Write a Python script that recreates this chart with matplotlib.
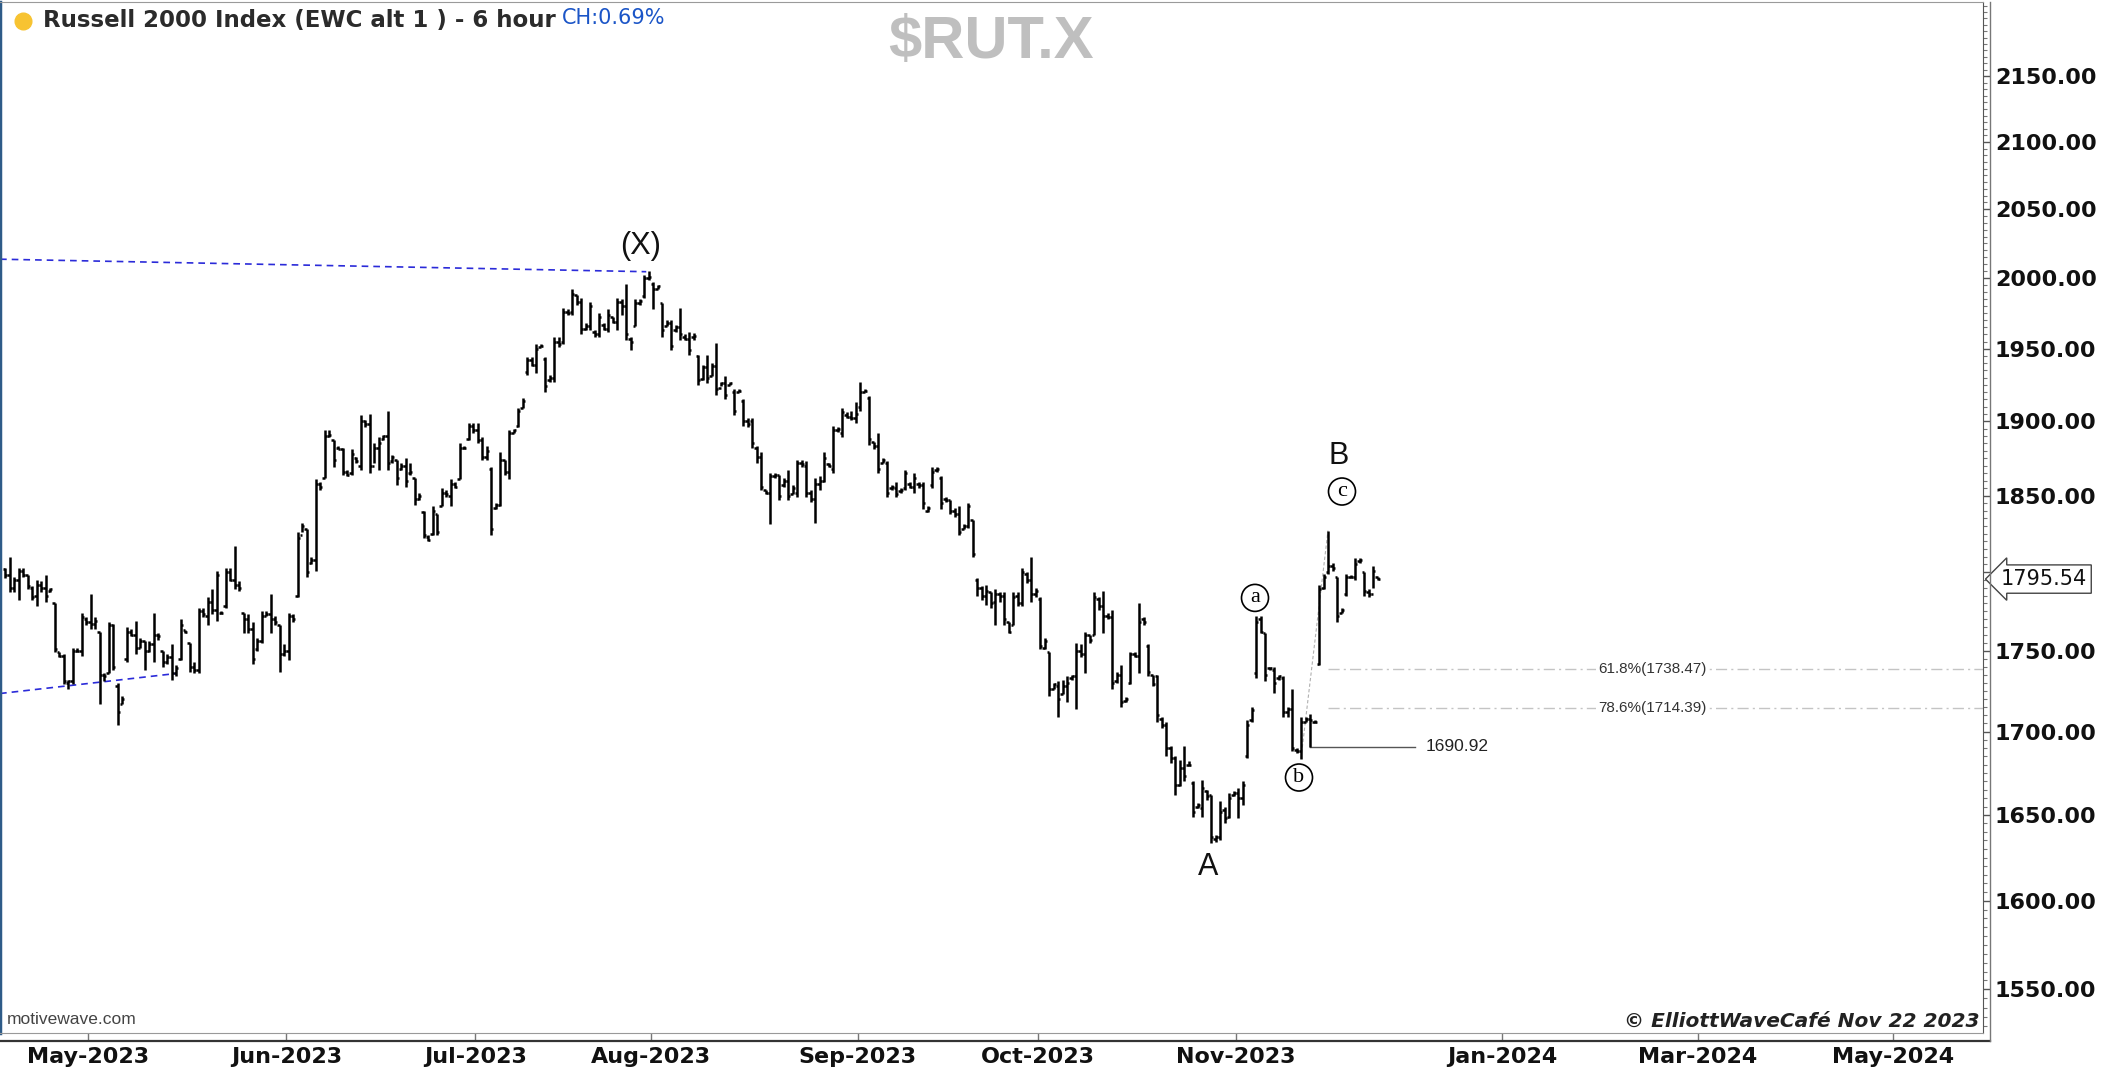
import matplotlib
matplotlib.use("Agg")
import matplotlib.pyplot as plt
import matplotlib.transforms as mtransforms
import numpy as np
from matplotlib.collections import LineCollection
from matplotlib.lines import Line2D
from matplotlib.ticker import FixedLocator, NullFormatter

# 6 hour bars of $RUT.X, rows are [open, high, low, close]
apr_bars = [
    [1802, 1803, 1796, 1798], [1798, 1810, 1787, 1790], [1790, 1797, 1787, 1795], [1795, 1803, 1782, 1801],
    [1801, 1803, 1797, 1798], [1798, 1798, 1789, 1791], [1790, 1791, 1782, 1784], [1785, 1795, 1778, 1792],
    [1792, 1794, 1787, 1790], [1790, 1798, 1781, 1785], [1788, 1790, 1787, 1789], [1780, 1780, 1749, 1751],
    [1749, 1749, 1746, 1747], [1747, 1748, 1729, 1731], [1730, 1732, 1726, 1731], [1731, 1752, 1729, 1750],
    [1750, 1752, 1749, 1750], [1750, 1774, 1747, 1771], [1770, 1771, 1766, 1768]]
may_bars = [
    [1768, 1786, 1764, 1767], [1767, 1771, 1764, 1769], [1762, 1762, 1717, 1735], [1735, 1736, 1731, 1734],
    [1736, 1768, 1736, 1766], [1766, 1767, 1738, 1740], [1728, 1730, 1704, 1712], [1717, 1722, 1717, 1720],
    [1745, 1765, 1743, 1762], [1762, 1764, 1759, 1760], [1760, 1769, 1748, 1752], [1752, 1758, 1752, 1756],
    [1756, 1756, 1738, 1750], [1750, 1756, 1749, 1754], [1754, 1774, 1743, 1760], [1760, 1761, 1757, 1759],
    [1750, 1750, 1740, 1743], [1743, 1748, 1742, 1746], [1746, 1754, 1732, 1736], [1736, 1741, 1734, 1739],
    [1745, 1770, 1744, 1766], [1763, 1763, 1761, 1762], [1755, 1755, 1737, 1740], [1740, 1743, 1736, 1738],
    [1738, 1777, 1736, 1775], [1775, 1777, 1771, 1773], [1772, 1784, 1766, 1781], [1781, 1789, 1773, 1776],
    [1776, 1801, 1769, 1798], [1774, 1775, 1773, 1774], [1778, 1803, 1777, 1800], [1800, 1803, 1794, 1795],
    [1795, 1817, 1789, 1792], [1792, 1794, 1788, 1790], [1774, 1774, 1761, 1770], [1770, 1773, 1761, 1764],
    [1764, 1768, 1742, 1745], [1751, 1758, 1750, 1756], [1756, 1775, 1755, 1772], [1772, 1775, 1772, 1773],
    [1773, 1786, 1761, 1770], [1770, 1772, 1766, 1768], [1766, 1766, 1737, 1748], [1748, 1754, 1747, 1750]]
jun_bars = [
    [1750, 1774, 1744, 1772], [1772, 1773, 1768, 1770], [1785, 1826, 1784, 1822], [1824, 1832, 1826, 1830],
    [1828, 1828, 1797, 1800], [1806, 1810, 1805, 1808], [1808, 1861, 1801, 1858], [1858, 1859, 1854, 1856],
    [1862, 1894, 1862, 1890], [1890, 1894, 1889, 1891], [1887, 1887, 1869, 1874], [1882, 1883, 1881, 1881],
    [1881, 1882, 1864, 1866], [1866, 1867, 1863, 1864], [1865, 1881, 1864, 1878], [1875, 1876, 1872, 1873],
    [1870, 1904, 1867, 1900], [1900, 1901, 1896, 1898], [1898, 1905, 1865, 1870], [1870, 1885, 1872, 1882],
    [1882, 1889, 1867, 1885], [1888, 1891, 1887, 1890], [1890, 1907, 1867, 1872], [1873, 1877, 1872, 1876],
    [1874, 1874, 1857, 1862], [1868, 1872, 1867, 1870], [1870, 1875, 1856, 1860], [1865, 1872, 1864, 1866],
    [1862, 1862, 1844, 1848], [1848, 1852, 1847, 1850], [1839, 1840, 1822, 1824], [1823, 1824, 1820, 1821],
    [1825, 1843, 1824, 1840], [1838, 1838, 1824, 1826], [1843, 1855, 1843, 1852], [1852, 1854, 1849, 1851],
    [1850, 1861, 1843, 1858], [1858, 1859, 1855, 1856], [1861, 1885, 1861, 1882], [1882, 1883, 1881, 1882],
    [1888, 1899, 1887, 1897], [1897, 1899, 1892, 1894]]
jul_bars = [
    [1894, 1899, 1885, 1887], [1887, 1889, 1874, 1876], [1876, 1883, 1874, 1880], [1868, 1869, 1824, 1828],
    [1842, 1845, 1841, 1844], [1844, 1879, 1843, 1874], [1874, 1874, 1864, 1866], [1866, 1894, 1861, 1892],
    [1892, 1895, 1892, 1894], [1897, 1909, 1896, 1907], [1909, 1916, 1909, 1914], [1934, 1944, 1932, 1942],
    [1942, 1944, 1938, 1939], [1939, 1953, 1933, 1950], [1951, 1953, 1951, 1952], [1943, 1944, 1920, 1924],
    [1928, 1932, 1927, 1930], [1930, 1958, 1927, 1955], [1955, 1958, 1951, 1953], [1955, 1979, 1953, 1976],
    [1976, 1978, 1974, 1975], [1976, 1992, 1974, 1989], [1988, 1988, 1981, 1983], [1983, 1986, 1960, 1964],
    [1964, 1968, 1963, 1966], [1966, 1983, 1963, 1980], [1962, 1963, 1958, 1960], [1960, 1975, 1958, 1972],
    [1967, 1968, 1963, 1964], [1964, 1978, 1962, 1974], [1972, 1972, 1968, 1969], [1969, 1986, 1963, 1983],
    [1983, 1985, 1974, 1980], [1980, 1996, 1956, 1960], [1957, 1958, 1949, 1955], [1966, 1985, 1966, 1982],
    [1982, 1985, 1981, 1984], [1987, 2002, 1986, 2000], [2000, 2005, 1999, 2001]]
aug_bars = [
    [1996, 1997, 1978, 1992], [1992, 1995, 1992, 1994], [1982, 1982, 1958, 1963], [1966, 1970, 1966, 1968],
    [1968, 1970, 1949, 1952], [1963, 1967, 1962, 1965], [1965, 1979, 1956, 1960], [1958, 1960, 1956, 1957],
    [1957, 1962, 1946, 1949], [1958, 1961, 1956, 1959], [1945, 1946, 1925, 1928], [1929, 1939, 1928, 1937],
    [1937, 1946, 1926, 1930], [1931, 1940, 1931, 1938], [1938, 1954, 1918, 1922], [1923, 1927, 1924, 1926],
    [1926, 1931, 1915, 1918], [1925, 1927, 1925, 1926], [1920, 1922, 1904, 1907], [1920, 1922, 1920, 1921],
    [1914, 1915, 1897, 1900], [1900, 1902, 1896, 1898], [1900, 1902, 1882, 1885], [1882, 1883, 1872, 1876],
    [1876, 1879, 1854, 1856], [1854, 1854, 1851, 1852], [1852, 1865, 1831, 1863], [1863, 1865, 1862, 1864],
    [1864, 1864, 1847, 1850], [1857, 1862, 1856, 1860], [1860, 1867, 1847, 1850], [1851, 1857, 1851, 1855],
    [1852, 1874, 1849, 1872], [1872, 1874, 1869, 1871], [1870, 1873, 1849, 1852], [1852, 1854, 1846, 1848],
    [1848, 1862, 1832, 1858], [1858, 1863, 1854, 1860], [1860, 1879, 1859, 1875], [1871, 1872, 1869, 1870],
    [1868, 1897, 1865, 1894], [1894, 1896, 1893, 1895], [1892, 1909, 1889, 1906], [1904, 1906, 1902, 1903],
    [1903, 1907, 1901, 1902], [1902, 1913, 1899, 1905]]
sep_bars = [
    [1910, 1927, 1907, 1920], [1920, 1922, 1920, 1921], [1916, 1917, 1884, 1888], [1886, 1886, 1881, 1883],
    [1883, 1892, 1865, 1868], [1872, 1875, 1872, 1874], [1872, 1873, 1849, 1852], [1855, 1857, 1854, 1856],
    [1855, 1859, 1849, 1851], [1853, 1855, 1852, 1854], [1855, 1867, 1854, 1865], [1858, 1859, 1855, 1856],
    [1856, 1865, 1852, 1862], [1858, 1859, 1855, 1857], [1857, 1859, 1841, 1845], [1840, 1843, 1839, 1842],
    [1857, 1869, 1855, 1866], [1867, 1869, 1866, 1868], [1862, 1863, 1841, 1845], [1848, 1849, 1846, 1847],
    [1847, 1847, 1838, 1840], [1840, 1842, 1836, 1838], [1838, 1843, 1824, 1826], [1828, 1831, 1828, 1830],
    [1830, 1845, 1829, 1843], [1834, 1834, 1810, 1812], [1795, 1796, 1785, 1790], [1790, 1791, 1782, 1785],
    [1785, 1792, 1779, 1788], [1787, 1787, 1777, 1780], [1781, 1789, 1766, 1786], [1786, 1787, 1781, 1785],
    [1785, 1787, 1766, 1770], [1768, 1768, 1761, 1762], [1766, 1787, 1766, 1784], [1785, 1787, 1778, 1780],
    [1780, 1803, 1778, 1800], [1799, 1800, 1793, 1795], [1795, 1810, 1781, 1786], [1786, 1790, 1784, 1788]]
oct_bars = [
    [1783, 1784, 1751, 1753], [1752, 1758, 1751, 1756], [1749, 1749, 1722, 1726], [1726, 1730, 1726, 1729],
    [1728, 1731, 1709, 1720], [1723, 1732, 1723, 1728], [1728, 1734, 1718, 1730], [1733, 1735, 1732, 1734],
    [1734, 1755, 1714, 1750], [1750, 1754, 1746, 1748], [1748, 1762, 1736, 1760], [1760, 1760, 1755, 1757],
    [1760, 1787, 1760, 1784], [1783, 1784, 1776, 1778], [1778, 1788, 1761, 1772], [1772, 1774, 1770, 1771],
    [1771, 1776, 1726, 1730], [1731, 1737, 1730, 1735], [1735, 1741, 1715, 1718], [1719, 1721, 1718, 1720],
    [1730, 1749, 1729, 1748], [1748, 1749, 1746, 1747], [1747, 1780, 1736, 1768], [1770, 1771, 1766, 1768],
    [1753, 1754, 1734, 1737], [1735, 1735, 1728, 1729], [1734, 1735, 1706, 1710], [1708, 1709, 1702, 1704],
    [1704, 1706, 1685, 1690], [1690, 1691, 1681, 1684], [1684, 1685, 1662, 1668], [1668, 1683, 1667, 1678],
    [1678, 1691, 1670, 1673], [1680, 1682, 1679, 1680], [1669, 1670, 1649, 1652], [1655, 1657, 1654, 1656],
    [1654, 1671, 1649, 1666], [1664, 1665, 1659, 1661], [1662, 1662, 1633.7, 1637], [1636, 1638, 1634, 1637],
    [1637, 1658, 1635, 1652], [1653, 1655, 1645, 1648], [1649, 1663, 1648, 1660], [1662, 1664, 1661, 1663]]
nov_bars = [
    [1663, 1666, 1648, 1660], [1660, 1670, 1656, 1668], [1685, 1707, 1684, 1704], [1707, 1715, 1706, 1713],
    [1736, 1772, 1733, 1768], [1770, 1772, 1761, 1762], [1761, 1761, 1731, 1735], [1739, 1740, 1738, 1739],
    [1738, 1740, 1724, 1730], [1733, 1735, 1732, 1734], [1733, 1734, 1709, 1712], [1712, 1715, 1709, 1714],
    [1714, 1726, 1688, 1690], [1689, 1690, 1687, 1688], [1688, 1709, 1683.72, 1706], [1706, 1709, 1706, 1708],
    [1708, 1711, 1690.92, 1707], [1706, 1707, 1705, 1706], [1742, 1792, 1741, 1789], [1790, 1799, 1789, 1797],
    [1800, 1827.05, 1799, 1804], [1804, 1806, 1801, 1803], [1797, 1797, 1768, 1772], [1774, 1777, 1774, 1776],
    [1786, 1799, 1785, 1797], [1797, 1798, 1796, 1797], [1797, 1809, 1795, 1805], [1807, 1809, 1806, 1808],
    [1800, 1800, 1785, 1788], [1787, 1789, 1784, 1786], [1786, 1804, 1790, 1801], [1797, 1797, 1795, 1795.54]]

month_bars = [apr_bars, may_bars, jun_bars, jul_bars, aug_bars, sep_bars, oct_bars, nov_bars]
month_labels = ["May-2023", "Jun-2023", "Jul-2023", "Aug-2023", "Sep-2023", "Oct-2023", "Nov-2023"]
future_labels = ["Jan-2024", "Mar-2024", "May-2024"]
price_ticks = [1550, 1600, 1650, 1700, 1750, 1800, 1850, 1900, 1950, 2000, 2050, 2100, 2150]

# wave labels: (text, bar index, price, dx px, dy px, circled)
wave_labels = [
    ("(X)", 143, 2005, -8, 25, False),
    ("A", 268, 1633.7, -3, -24, False),
    ("a", 278, 1772, -1, 18, True),
    ("b", 288, 1683.72, -2, -19, True),
    ("c", 294, 1827.05, 14, 39, True),
    ("B", 294, 1827.05, 11, 75, False),
]
upper_trend = ([-1.1, 142.5], [2013.6, 2004.6])
lower_trend = ([-1.1, 38], [1723.4, 1735.8])
fib_ratios = [0.618, 0.786]

W, H = 2105, 1070


def fx(px):
    return px / W


def fy(py):
    return 1 - py / H


bars = np.array(sum(month_bars, []), dtype=float)
opens, highs, lows, closes = bars.T
n = len(bars)
starts = np.cumsum([0] + [len(m) for m in month_bars])[1:-1]

fig = plt.figure(figsize=(W / 100, H / 100), dpi=100)
ax = fig.add_axes([0, fy(1033), fx(1983), (1033 - 2) / H])

segs = []
for i in range(n):
    segs.append([(i, lows[i]), (i, highs[i])])
    segs.append([(i - 0.55, opens[i]), (i, opens[i])])
    segs.append([(i, closes[i]), (i + 0.55, closes[i])])
ax.add_collection(LineCollection(segs, colors="black", linewidths=1.8, capstyle="butt", zorder=3))

ax.set_yscale("log")
ax.set_xlim(-5 / 4.5, (1983 - 5) / 4.5)
ax.set_ylim(1526, 2208)

# trendlines
ax.plot(*upper_trend, color="#2b2bd9", lw=1.2, ls=(0, (4, 3)))
ax.plot(*lower_trend, color="#2b2bd9", lw=1.2, ls=(0, (4, 3)))

# fib retracement of b -> c
b_idx, c_idx = 288, 294
b_low, c_high = lows[b_idx], highs[c_idx]
ax.plot([b_idx, c_idx], [b_low, c_high], color="#b0b0b0", lw=0.8, ls=(0, (3, 2)))
xmax = ax.get_xlim()[1]
for r in fib_ratios:
    lvl = c_high - r * (c_high - b_low)
    ax.plot([c_idx, xmax], [lvl, lvl], color="#c4c4c4", lw=1, dashes=(8, 3, 1.5, 3))
    ax.text(366, lvl, f"{r * 100:.1f}%({lvl:.2f})", ha="center", va="center", fontsize=11,
            color="#333333", family="Liberation Sans",
            bbox=dict(fc="white", ec="none", pad=1.5))

# low of the b-wave follow-up bar
lo_idx = 290
ax.plot([lo_idx, 313.3], [lows[lo_idx]] * 2, color="#555555", lw=1)
ax.text(315.8, lows[lo_idx], f"{lows[lo_idx]:.2f}", ha="left", va="center", fontsize=12.5,
        color="#222222", family="Liberation Sans")

for txt, i, p, dx, dy, circ in wave_labels:
    if circ:
        ax.annotate(txt, xy=(i, p), xytext=(dx, dy), textcoords="offset pixels",
                    ha="center", va="center", fontsize=16, family="Liberation Serif",
                    bbox=dict(boxstyle="circle,pad=0.18", fc="white", ec="black", lw=1.2))
    else:
        ax.annotate(txt, xy=(i, p), xytext=(dx, dy), textcoords="offset pixels",
                    ha="center", va="center", fontsize=22, family="Liberation Sans", color="#111111")

# axes styling; the 1800 label is covered by the last price tag
last = closes[-1]
ax.yaxis.tick_right()
ax.set_yticks(price_ticks)
ax.set_yticklabels(["" if abs(v - last) < 25 else f"{v:.2f}" for v in price_ticks],
                   fontweight="bold", fontsize=16, color="#111111")
ax.yaxis.set_minor_locator(FixedLocator(np.arange(1530, 2210, 5)))
ax.yaxis.set_minor_formatter(NullFormatter())
ax.tick_params(axis="y", which="major", direction="out", length=5, width=1, pad=3.6, color="#555555")
ax.tick_params(axis="y", which="minor", direction="out", length=3, width=0.8, color="#777777")

tick_pos = [s - 0.5 for s in starts] + [332.7, 376.2, 419.6]
ax.set_xticks(tick_pos)
ax.set_xticklabels(month_labels + future_labels, fontweight="bold", fontsize=16, color="#111111")
ax.tick_params(axis="x", direction="out", length=5.8, width=1, pad=4, color="#777777")

ax.spines["left"].set_color("#2e5b88")
ax.spines["left"].set_linewidth(2.5)
ax.spines["top"].set_color("#9a9a9a")
ax.spines["right"].set_color("#555555")
ax.spines["bottom"].set_color("#999999")

fig.add_artist(Line2D([0, fx(1990)], [fy(1041), fy(1041)], color="#333333", lw=1.6))
fig.add_artist(Line2D([fx(1990), fx(1990)], [fy(2), fy(1041)], color="#777777", lw=1))

# last price tag
trans = mtransforms.blended_transform_factory(ax.transAxes, ax.transData)
ax.text(1.009, last, f"{last:.2f}", transform=trans, ha="left", va="center",
        fontsize=15, color="#111111", clip_on=False, zorder=10,
        bbox=dict(boxstyle="larrow,pad=0.2", fc="white", ec="#444444", lw=1))

# header and footer texts
fig.add_artist(Line2D([fx(23)], [fy(21)], marker="o", ms=12, color="#f7c331", mec="#f7c331"))
fig.text(fx(43), fy(21), "Russell 2000 Index (EWC alt 1 ) - 6 hour", fontsize=16.5,
         fontweight="bold", color="#2b2b2b", ha="left", va="center")
fig.text(fx(562), fy(18), "CH:0.69%", fontsize=15, color="#1b55c7", ha="left", va="center")
fig.text(fx(991), fy(43), "$RUT.X", fontsize=43, fontweight="bold", color="#bfbfbf",
         ha="center", va="center", family="Liberation Sans")
fig.text(fx(7), fy(1020), "motivewave.com", fontsize=12.5, color="#444444", ha="left", va="center",
         family="Liberation Sans")
fig.text(fx(1979), fy(1021), "© ElliottWaveCafé Nov 22 2023", fontsize=14.5, fontweight="bold",
         style="italic", color="#222222", ha="right", va="center")

fig.savefig("out.png", dpi=100)
